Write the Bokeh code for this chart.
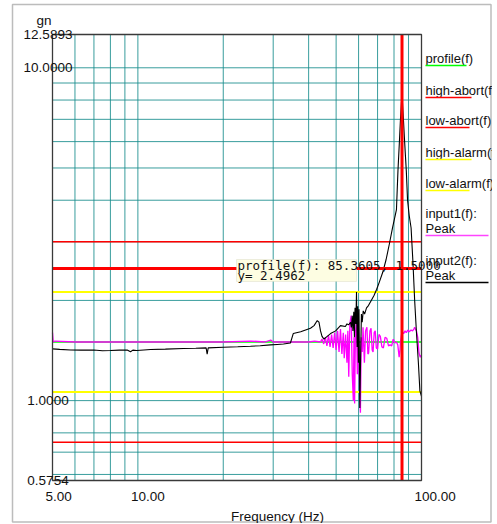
import math
from bokeh.plotting import figure
from bokeh.models import Range1d, Label, BoxAnnotation
from bokeh.embed import file_html
from bokeh.resources import INLINE

# ---------------- data ----------------
f_min, f_max = 5.0, 100.0
y_min, y_max = 0.5754, 12.5893
x_ticks = [5.0, 10.0, 100.0]
x_tick_labels = ["5.00", "10.00", "100.00"]
y_ticks = [0.5754, 1.0, 10.0, 12.5893]
y_tick_labels = ["0.5754", "1.0000", "10.0000", "12.5893"]
x_grid = [6, 7, 8, 9, 10, 20, 30, 40, 50, 60, 70, 80, 90]
y_grid = [0.6, 0.7, 0.8, 0.9, 1, 2, 3, 4, 5, 6, 7, 8, 9, 10]

profile_level = 1.5
high_abort = 3.0
low_abort = 0.75
high_alarm = 2.1213
low_alarm = 1.0607
cursor_f = 85.3605
cursor_y = 2.4962

input2_freq = [5.0, 5.3, 5.79, 6.3, 6.99, 7.5, 8.0, 8.6, 9.17, 9.42, 9.6, 9.89, 10.5, 11.08, 12.5,
               14.48, 16.0, 17.4, 17.55, 17.7, 20.0, 22.5, 24.94, 27.0, 29.36, 31.0, 32.6, 34.5,
               35.3, 37.5, 40.6, 41.8, 42.9, 43.5, 44.05, 44.6, 45.3, 46.5, 47.8, 49.8, 51.8,
               53.9, 54.6, 55.4, 56.2, 56.6, 57.0, 57.3, 57.7, 58.0, 58.3, 58.7, 59.0, 59.3,
               59.6, 59.9, 60.2, 60.6, 61.0, 61.4, 61.8, 62.3, 63.0, 64.0, 65.0, 66.5, 68.0,
               69.5, 71.0, 73.0, 75.0, 77.0, 79.0, 80.5, 81.6, 82.6, 83.5, 84.3, 85.0, 85.5,
               86.2, 87.0, 88.4, 89.3, 90.5, 91.9, 93.3, 94.6, 96.0, 97.5, 98.7, 100.0]
input2_val = [1.43, 1.425, 1.42, 1.418, 1.42, 1.412, 1.414, 1.418, 1.42, 1.402, 1.418, 1.414, 1.42,
              1.424, 1.428, 1.434, 1.437, 1.44, 1.38, 1.44, 1.447, 1.452, 1.457, 1.462, 1.47,
              1.475, 1.48, 1.49, 1.59, 1.61, 1.65, 1.68, 1.74, 1.72, 1.62, 1.56, 1.53, 1.56,
              1.59, 1.62, 1.68, 1.67, 1.70, 1.69, 1.72, 1.66, 1.80, 1.62, 1.85, 1.55, 1.90,
              1.70, 2.12, 1.45, 1.92, 1.30, 1.88, 0.95, 1.35, 1.82, 1.72, 1.86, 1.82, 1.90,
              1.93, 2.00, 2.07, 2.16, 2.27, 2.43, 2.65, 2.95, 3.30, 3.55, 3.75, 4.9, 5.9, 7.0,
              7.9, 8.1, 7.2, 6.2, 4.9, 4.0, 3.6, 3.3, 2.6, 2.0, 1.6, 1.3, 1.07, 1.03]

input1_freq = [5.0, 5.03, 5.1, 6.0, 7.0, 8.0, 10.0, 12.0, 15.0, 20.0, 25.0, 28.0, 29.4, 30.0, 35.0,
               40.0, 42.0, 44.0, 44.6, 45.2, 45.8, 46.4, 47.0, 47.6, 48.2, 48.8, 49.4, 50.0,
               50.6, 51.2, 51.8, 52.4, 53.0, 53.4, 54.0, 54.6, 55.0, 55.4, 55.9, 56.5, 57.0,
               57.5, 57.8, 58.1, 58.5, 59.0, 59.4, 59.7, 60.2, 60.9, 61.3, 61.8, 62.2, 62.9,
               63.5, 64.2, 64.7, 65.1, 65.8, 66.4, 67.0, 67.5, 68.1, 68.7, 69.3, 70.0, 70.8,
               71.6, 72.5, 73.4, 74.4, 75.4, 76.5, 77.5, 78.5, 79.5, 80.5, 81.6, 82.5, 83.4,
               84.0, 84.3, 85.0, 85.6, 86.5, 87.5, 88.4, 89.5, 90.5, 91.9, 93.0, 94.0, 94.6,
               95.5, 96.0, 97.0, 98.0, 99.0, 100.0]
input1_val = [1.60, 1.50, 1.51, 1.50, 1.50, 1.50, 1.50, 1.50, 1.50, 1.50, 1.51, 1.50, 1.52, 1.50,
              1.50, 1.50, 1.51, 1.50, 1.53, 1.48, 1.55, 1.46, 1.57, 1.45, 1.58, 1.44, 1.60,
              1.42, 1.62, 1.40, 1.64, 1.38, 1.60, 1.34, 1.58, 1.30, 1.62, 1.18, 1.70, 1.80,
              1.20, 1.00, 1.55, 0.98, 1.60, 1.75, 1.20, 1.83, 1.25, 0.92, 1.55, 1.40, 1.66,
              1.30, 1.62, 1.66, 1.38, 1.39, 1.62, 1.65, 1.42, 1.40, 1.60, 1.62, 1.44, 1.43,
              1.58, 1.56, 1.45, 1.44, 1.55, 1.54, 1.46, 1.47, 1.46, 1.53, 1.49, 1.50, 1.47,
              1.35, 1.42, 1.50, 1.58, 1.61, 1.59, 1.62, 1.60, 1.63, 1.61, 1.63, 1.62, 1.64,
              1.66, 1.63, 1.62, 1.55, 1.39, 1.35, 1.37]

legend_names = ["profile(f)", "high-abort(f)", "low-abort(f)", "high-alarm(f)", "low-alarm(f)",
                "input1(f):", "input2(f):"]
legend_colors = ["#00ff00", "#ff0000", "#ff0000", "#ffff00", "#ffff00", "#ff44ff", "#000000"]
tooltip_lines = ["profile(f): 85.3605, 1.5000", "y= 2.4962"]

# ---------------- layout (pixels) ----------------
W, H = 492, 523
PL, PR, PT, PB = 52, 421, 34, 480     # plot area inside the canvas

kx = (math.log10(f_max) - math.log10(f_min)) / (PR - PL)
ky = (math.log10(y_max) - math.log10(y_min)) / (PB - PT)
xr = Range1d(10 ** (math.log10(f_min) - PL * kx), 10 ** (math.log10(f_max) + (W - PR) * kx))
yr = Range1d(10 ** (math.log10(y_min) - (H - PB) * ky), 10 ** (math.log10(y_max) + PT * ky))

def sy(py):          # screen units measured from the bottom of the canvas
    return H - py

FONT = "Liberation Sans"
FS = "13.5px"
LFS = "13px"
TXT = "#111111"

p = figure(width=W, height=H, x_axis_type="log", y_axis_type="log", x_range=xr, y_range=yr,
           output_backend="svg", toolbar_location=None,
           min_border_left=0, min_border_right=0, min_border_top=0, min_border_bottom=0)
p.axis.visible = False
p.grid.visible = False
p.title.visible = False
p.outline_line_color = None
p.background_fill_color = "white"
p.border_fill_color = "white"

# grid
GRID = "#168c8c"
p.segment(x0=x_grid, x1=x_grid, y0=[y_min] * len(x_grid), y1=[y_max] * len(x_grid),
          line_color=GRID, line_width=1, line_alpha=0.85)
p.segment(x0=[f_min] * len(y_grid), x1=[f_max] * len(y_grid), y0=y_grid, y1=y_grid,
          line_color=GRID, line_width=1, line_alpha=0.85)

ends = [f_min, f_max]
for lvl, col, w in [(high_abort, "#ff0000", 1.5), (low_abort, "#ff0000", 1.5),
                    (high_alarm, "#ffff00", 2), (low_alarm, "#ffff00", 2)]:
    p.line(ends, [lvl, lvl], line_color=col, line_width=w)

p.line(ends, [profile_level, profile_level], line_color="#00ff00", line_width=1.5)
p.line(input1_freq, input1_val, line_color="#ff00ff", line_width=1.3)
p.line(input2_freq, input2_val, line_color="#000000", line_width=1.1)

# cursor
p.line([cursor_f, cursor_f], [y_min, y_max], line_color="#ff0000", line_width=3)
p.line(ends, [cursor_y, cursor_y], line_color="#ff0000", line_width=3)

# plot frame
p.quad(left=[f_min], right=[f_max], bottom=[y_min], top=[y_max], fill_color=None,
       line_color="#3a3a3a", line_width=1.3)

# tooltip
p.add_layout(BoxAnnotation(left=236, right=356, top=sy(259), bottom=sy(281),
                           left_units="screen", right_units="screen", top_units="screen",
                           bottom_units="screen", fill_color="#fdfde2", fill_alpha=1,
                           line_color="#c8c8b0", line_width=1))
for i, t in enumerate(tooltip_lines):
    p.add_layout(Label(x=237, y=sy(265 + 10 * i), x_units="screen", y_units="screen", text=t,
                       text_font="DejaVu Sans Mono", text_font_size="12.5px",
                       text_baseline="middle", text_align="left", text_color=TXT))

# axis tick labels
for v, t in zip(y_ticks, y_tick_labels):
    p.add_layout(Label(x=47.5, x_units="screen", y=v, text=t, text_font=FONT,
                       text_font_size=FS, text_align="center", text_baseline="middle",
                       text_color=TXT))
for v, t in zip(x_ticks, x_tick_labels):
    p.add_layout(Label(x=v, y=sy(496), y_units="screen", x_offset=-7, text=t, text_font=FONT,
                       text_font_size=FS, text_align="left", text_baseline="middle",
                       text_color=TXT))
p.add_layout(Label(x=43.5, y=sy(20), x_units="screen", y_units="screen", text="gn",
                   text_font=FONT, text_font_size=FS, text_align="center",
                   text_baseline="middle", text_color=TXT))
p.add_layout(Label(x=277, y=sy(516), x_units="screen", y_units="screen",
                   text="Frequency (Hz)", text_font=FONT, text_font_size=FS,
                   text_align="center", text_baseline="middle", text_color=TXT))

# legend
leg_y = [58, 90, 120, 152, 183, 213, 260]
ul_w = [41, 46, 44, 46, 44, 63, 63]
for i, (name, col) in enumerate(zip(legend_names, legend_colors)):
    yc = leg_y[i]
    p.add_layout(Label(x=425, y=sy(yc), x_units="screen", y_units="screen", text=name,
                       text_font=FONT, text_font_size=LFS, text_align="left",
                       text_baseline="middle", text_color=TXT))
    if i >= 5:
        p.add_layout(Label(x=425, y=sy(yc + 15), x_units="screen", y_units="screen",
                           text="Peak", text_font=FONT, text_font_size=LFS, text_align="left",
                           text_baseline="middle", text_color=TXT))
        uy = yc + 22
    else:
        uy = yc + 7
    p.add_layout(BoxAnnotation(left=425, right=425 + ul_w[i], top=sy(uy - 0.75),
                               bottom=sy(uy + 0.75), left_units="screen", right_units="screen",
                               top_units="screen", bottom_units="screen", fill_color=col,
                               fill_alpha=1, line_color=None))

# outer border
p.add_layout(BoxAnnotation(left=12, right=490.5, top=sy(4), bottom=sy(521.5),
                           left_units="screen", right_units="screen", top_units="screen",
                           bottom_units="screen", fill_alpha=0, line_color="#222222",
                           line_width=1.5))

open("out.html", "w").write(file_html(p, INLINE))
